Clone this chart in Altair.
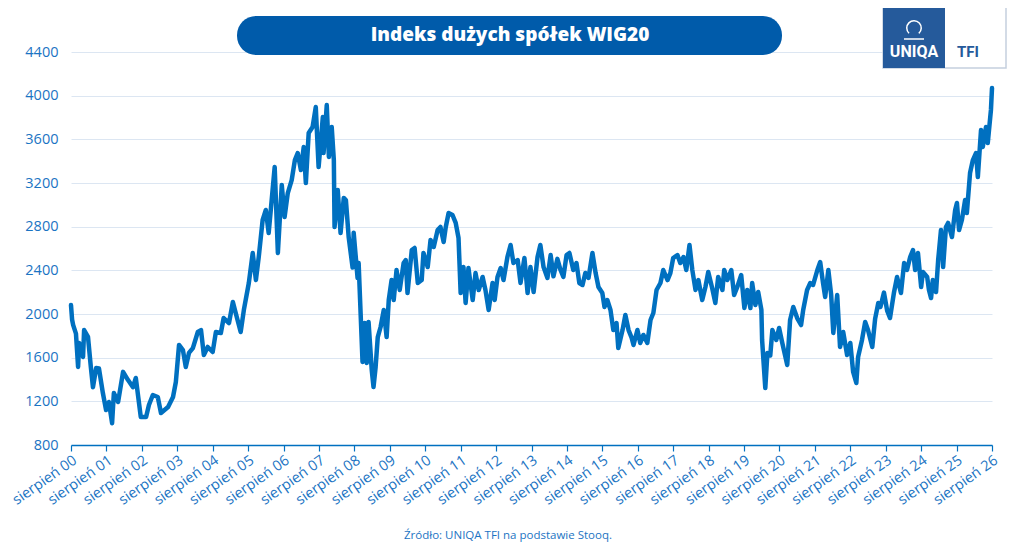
import altair as alt
import pandas as pd

# years since "sierpień 00" (August 2000)
years = [
    0.00, 0.03, 0.06, 0.14, 0.20, 0.23, 0.34, 0.37, 0.48, 0.56, 0.62, 0.71, 0.79, 0.90, 0.99,
    1.07, 1.16, 1.21, 1.33, 1.47, 1.61, 1.75, 1.83, 1.97, 2.12, 2.20, 2.31, 2.45, 2.54, 2.74,
    2.88, 2.96, 3.05, 3.16, 3.24, 3.33, 3.44, 3.58, 3.67, 3.75, 3.86, 4.00, 4.09, 4.23, 4.31,
    4.46, 4.57, 4.65, 4.79, 4.88, 5.02, 5.13, 5.22, 5.30, 5.41, 5.50, 5.58, 5.64, 5.75, 5.84,
    5.95, 6.03, 6.12, 6.23, 6.32, 6.40, 6.49, 6.57, 6.63, 6.71, 6.82, 6.91, 6.99, 7.11, 7.13,
    7.22, 7.28, 7.36, 7.42, 7.44, 7.53, 7.61, 7.70, 7.76, 7.84, 7.95, 7.98, 8.09, 8.12, 8.23,
    8.29, 8.35, 8.40, 8.49, 8.54, 8.60, 8.66, 8.74, 8.83, 8.91, 8.97, 9.05, 9.11, 9.19, 9.28,
    9.39, 9.45, 9.50, 9.62, 9.70, 9.79, 9.90, 9.95, 10.07, 10.15, 10.24, 10.35, 10.43, 10.52,
    10.58, 10.66, 10.77, 10.86, 10.94, 11.00, 11.08, 11.14, 11.22, 11.34, 11.42, 11.51, 11.62,
    11.70, 11.79, 11.90, 11.96, 12.04, 12.13, 12.21, 12.32, 12.41, 12.49, 12.61, 12.69, 12.80,
    12.89, 12.97, 13.06, 13.17, 13.25, 13.34, 13.45, 13.54, 13.62, 13.73, 13.82, 13.90, 13.99,
    14.07, 14.18, 14.27, 14.35, 14.44, 14.52, 14.61, 14.72, 14.81, 14.89, 15.00, 15.06, 15.14,
    15.23, 15.31, 15.40, 15.45, 15.57, 15.65, 15.74, 15.82, 15.88, 15.99, 16.07, 16.16, 16.27,
    16.36, 16.44, 16.53, 16.64, 16.72, 16.84, 16.92, 17.00, 17.12, 17.20, 17.29, 17.37, 17.46,
    17.54, 17.63, 17.71, 17.82, 17.91, 17.99, 18.10, 18.19, 18.27, 18.39, 18.44, 18.53, 18.64,
    18.72, 18.81, 18.92, 19.01, 19.09, 19.18, 19.23, 19.32, 19.40, 19.49, 19.51, 19.60, 19.66,
    19.74, 19.80, 19.91, 19.99, 20.08, 20.22, 20.30, 20.39, 20.50, 20.61, 20.67, 20.78, 20.87,
    20.95, 21.07, 21.15, 21.23, 21.29, 21.38, 21.46, 21.52, 21.63, 21.71, 21.80, 21.91, 22.00,
    22.08, 22.17, 22.22, 22.33, 22.42, 22.50, 22.62, 22.70, 22.79, 22.85, 22.95, 23.04, 23.12,
    23.23, 23.32, 23.43, 23.52, 23.60, 23.69, 23.77, 23.83, 23.91, 24.00, 24.05, 24.17, 24.22,
    24.28, 24.33, 24.42, 24.48, 24.56, 24.62, 24.70, 24.76, 24.87, 24.96, 25.01, 25.07, 25.15,
    25.24, 25.29, 25.38, 25.46, 25.55, 25.60, 25.69, 25.74, 25.83, 25.88, 25.97, 26.00,
]

wig20 = [
    2082, 1950, 1900, 1820, 1515, 1735, 1606, 1853, 1790, 1515, 1330, 1505, 1500, 1276, 1120,
    1194, 1000, 1276, 1194, 1470, 1395, 1330, 1414, 1056, 1056, 1166, 1258, 1240, 1093, 1148,
    1240, 1377, 1716, 1670, 1515, 1643, 1688, 1835, 1853, 1624, 1698, 1652, 1835, 1826, 1963,
    1917, 2110, 2009, 1835, 2037, 2284, 2559, 2311, 2522, 2861, 2953, 2742, 2953, 3346, 2559,
    3182, 2888, 3108, 3227, 3410, 3475, 3319, 3530, 3200, 3658, 3713, 3896, 3346, 3805, 3475,
    3914, 3438, 3713, 3410, 2797, 3136, 2742, 3063, 3044, 2700, 2425, 2745, 2330, 2467, 1560,
    1917, 1551, 1927, 1487, 1331, 1515, 1789, 1881, 2037, 1789, 2128, 2311, 2128, 2403, 2220,
    2467, 2494, 2192, 2586, 2605, 2284, 2311, 2559, 2430, 2678, 2614, 2769, 2797, 2660,
    2797, 2925, 2907, 2834, 2696, 2192, 2430, 2101, 2421, 2128, 2375, 2220, 2339,
    2220, 2037, 2284, 2128, 2339, 2421, 2311, 2522, 2632, 2467, 2494, 2284, 2513,
    2192, 2430, 2201, 2522, 2632, 2430, 2330, 2540, 2345, 2505, 2403, 2339, 2540,
    2559, 2403, 2467, 2284, 2266, 2375, 2330, 2559, 2375, 2247, 2192, 2064, 2128,
    2037, 1853, 1917, 1688, 1853, 1991, 1853, 1789, 1716, 1853, 1735, 1808, 1735,
    1945, 2009, 2220, 2284, 2403, 2311, 2375, 2513, 2540, 2467, 2522, 2403, 2632,
    2403, 2220, 2311, 2128, 2247, 2385, 2238, 2101, 2339, 2220, 2403, 2311, 2403,
    2174, 2247, 2357, 2055, 2220, 2055, 2284, 2082, 2201, 2037, 1762, 1322, 1643,
    1620, 1853, 1762, 1872, 1735, 1533, 1945, 2064, 1963, 1899, 2037, 2220, 2284,
    2266, 2403, 2476, 2284, 2156, 2403, 2174, 1826, 2174, 1698, 1835, 1624, 1735,
    1469, 1368, 1606, 1762, 1927, 1853, 1698, 1955, 2101, 2064, 2196, 2030, 1963,
    2192, 2339, 2192, 2467, 2403, 2522, 2586, 2403, 2559, 2247, 2385, 2339, 2220,
    2146, 2311, 2201, 2494, 2769, 2430, 2797, 2834, 2705, 2953, 3017, 2769, 2861,
    3044, 2925, 3291, 3410, 3475, 3255, 3685, 3530, 3713, 3566, 3869, 4070,
]

tick_years = list(range(0, 27))
y_ticks = [800, 1200, 1600, 2000, 2400, 2800, 3200, 3600, 4000, 4400]

TITLE = "Indeks dużych spółek WIG20"
SOURCE = "Źródło: UNIQA TFI na podstawie Stooq."
LOGO_LEFT = "UNIQA"
LOGO_RIGHT = "TFI"

FONT = "Open Sans"
BLUE = "#0070C0"
LABEL = "#1B74C3"
PILL = "#005BAA"
LOGO_BLUE = "#255A9B"

df = pd.DataFrame({"t": years, "v": wig20})

line = alt.Chart(df).mark_line(
    color=BLUE, strokeWidth=4.5, strokeJoin="round", strokeCap="round"
).encode(
    x=alt.X(
        "t:Q",
        scale=alt.Scale(domain=[0, 26], nice=False, zero=False),
        axis=alt.Axis(
            values=tick_years,
            labelExpr="'sierpień ' + (datum.value < 10 ? '0' : '') + datum.value",
            labelAngle=-35,
            labelAlign="right",
            labelBaseline="top",
            labelOverlap=False,
            labelFlush=False,
            grid=False,
            domainColor=BLUE,
            domainWidth=1.5,
            tickColor=BLUE,
            tickSize=6,
            tickWidth=1.2,
            labelColor=LABEL,
            labelFont=FONT,
            labelFontSize=14.5,
            labelPadding=2,
            title=None,
        ),
    ),
    y=alt.Y(
        "v:Q",
        scale=alt.Scale(domain=[800, 4400], nice=False, zero=False),
        axis=alt.Axis(
            values=y_ticks,
            format="d",
            grid=True,
            gridColor="#DCE6F2",
            gridWidth=1,
            domain=False,
            ticks=False,
            labelColor=LABEL,
            labelFont=FONT,
            labelFontSize=14.5,
            labelPadding=13,
            title=None,
        ),
    ),
)

one = pd.DataFrame({"title": [TITLE], "source": [SOURCE], "l": [LOGO_LEFT], "r": [LOGO_RIGHT]})
deco = alt.Chart(one)

pill = deco.mark_rect(color=PILL, cornerRadius=19).encode(
    x=alt.value(166), x2=alt.value(711), y=alt.value(-36), y2=alt.value(3)
)
title_txt = deco.mark_text(
    font=FONT, fontSize=19, fontWeight=800, color="white", align="center", baseline="middle"
).encode(x=alt.value(439), y=alt.value(-17), text="title:N")

logo_white = deco.mark_rect(color="white", stroke="#C5D0DE", strokeWidth=1.5).encode(
    x=alt.value(812), x2=alt.value(935), y=alt.value(-46), y2=alt.value(16)
)
logo_dark = deco.mark_rect(color=LOGO_BLUE).encode(
    x=alt.value(812), x2=alt.value(874), y=alt.value(-46), y2=alt.value(16)
)
logo_arc = deco.mark_arc(
    color="white", radius=8, radius2=6.5, theta=3.9, theta2=8.7
).encode(x=alt.value(843), y=alt.value(-24))
logo_bar = deco.mark_rule(color="white", strokeWidth=1.5).encode(
    x=alt.value(833), x2=alt.value(853), y=alt.value(-13)
)
logo_l = deco.mark_text(
    font="Roboto", fontSize=16, fontWeight="bold", color="white", align="center", baseline="middle"
).encode(x=alt.value(843), y=alt.value(0), text="l:N")
logo_r = deco.mark_text(
    font="Roboto", fontSize=15, fontWeight="bold", color=LOGO_BLUE, align="center", baseline="middle"
).encode(x=alt.value(897), y=alt.value(0), text="r:N")

source_txt = deco.mark_text(
    font=FONT, fontSize=11.5, color=LABEL, align="center", baseline="middle"
).encode(x=alt.value(437), y=alt.value(484), text="source:N")

chart = alt.layer(
    line, pill, title_txt, logo_white, logo_dark, logo_arc, logo_bar, logo_l, logo_r, source_txt
).properties(
    width=921,
    height=393,
    autosize="none",
    padding={"left": 63, "top": 44, "right": 15, "bottom": 100},
).configure_view(stroke=None)

chart.save("out.html", embed_options={"renderer": "svg", "actions": False})
